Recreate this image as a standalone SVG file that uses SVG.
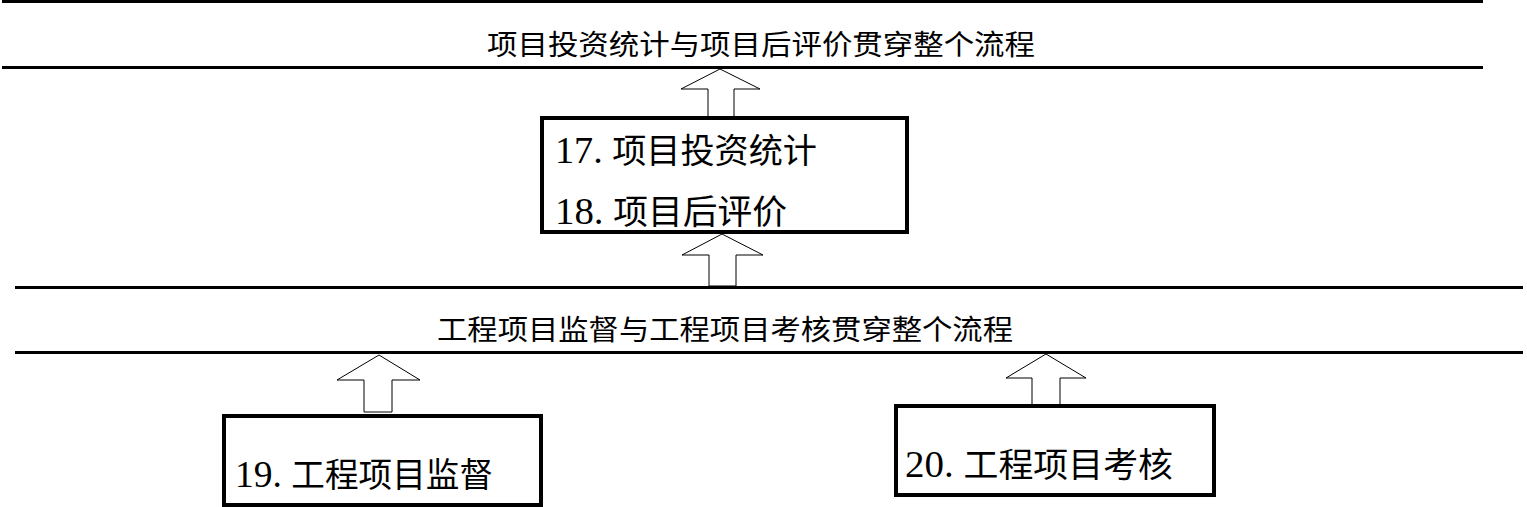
<svg xmlns="http://www.w3.org/2000/svg" width="1527" height="507" viewBox="0 0 1527 507">
<style>
.rule{stroke:#000;stroke-width:3;fill:none}
.box{fill:#fff;stroke:#000;stroke-width:4}
.arrow{fill:#fff;stroke:#000;stroke-width:1}
.title{font-family:"Noto Sans CJK SC","Liberation Sans",sans-serif;font-size:28px;fill:#000}
.label{font-family:"Liberation Serif","Noto Sans CJK SC",serif;font-size:34px;fill:#000}
.num{font-size:38px}
</style>
<rect width="1527" height="507" fill="#fff"/>
<g id="bands">
<line class="rule" x1="2" y1="1.5" x2="1483" y2="1.5"/>
<line class="rule" x1="2" y1="67.5" x2="1483" y2="67.5"/>
<line class="rule" x1="15" y1="287.5" x2="1523" y2="287.5"/>
<line class="rule" x1="15" y1="352.5" x2="1523" y2="352.5"/>
<text class="title" x="761" y="55" text-anchor="middle" textLength="548" lengthAdjust="spacingAndGlyphs">项目投资统计与项目后评价贯穿整个流程</text>
<text class="title" x="725" y="340" text-anchor="middle" textLength="576" lengthAdjust="spacingAndGlyphs">工程项目监督与工程项目考核贯穿整个流程</text>
</g>
<g id="connectors">
<polygon class="arrow" points="720,69 760,89 734,89 734,117 708,117 708,89 681,89"/>
<polygon class="arrow" points="722,234 763,255 736,255 736,286 709,286 709,255 682,255"/>
<polygon class="arrow" points="379,355 420,380 392,380 392,412 364,412 364,380 337,380"/>
<polygon class="arrow" points="1046,354 1086,378 1060,378 1060,405 1032,405 1032,378 1006,378"/>
</g>
<g id="node17-18">
<rect class="box" x="542" y="118" width="365" height="114"/>
<text class="label" x="555" y="163" textLength="262" lengthAdjust="spacingAndGlyphs"><tspan class="num">17. </tspan>项目投资统计</text>
<text class="label" x="555" y="224" textLength="232" lengthAdjust="spacingAndGlyphs"><tspan class="num">18. </tspan>项目后评价</text>
</g>
<g id="node19">
<rect class="box" x="224" y="416" width="317" height="89"/>
<text class="label" x="235" y="487" textLength="258" lengthAdjust="spacingAndGlyphs"><tspan class="num">19. </tspan>工程项目监督</text>
</g>
<g id="node20">
<rect class="box" x="896" y="406" width="318" height="89"/>
<text class="label" x="905" y="477" textLength="268" lengthAdjust="spacingAndGlyphs"><tspan class="num">20. </tspan>工程项目考核</text>
</g>
</svg>
